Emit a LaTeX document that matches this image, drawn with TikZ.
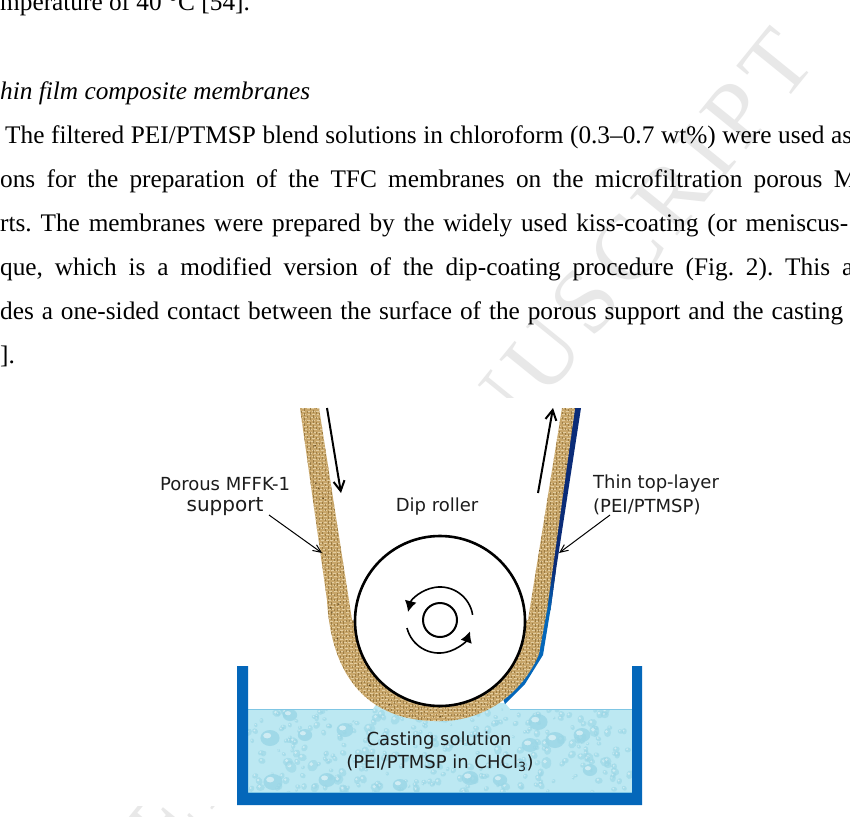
\documentclass[tikz,border=0pt]{standalone}
\usepackage{fontspec}
\setmainfont{Liberation Serif}
\newfontfamily\labelfont{DejaVu Sans}
\newfontfamily\wmfont[LetterSpace=10]{Liberation Serif}
\usetikzlibrary{arrows.meta}
\definecolor{tankblue}{HTML}{0467BA}
\definecolor{navy}{HTML}{0B2C78}
\definecolor{tanbase}{HTML}{C8A66A}
\definecolor{weavelight}{HTML}{E6D2A6}
\definecolor{weavedark}{HTML}{84642E}
\definecolor{waterbase}{HTML}{BCE8F2}
\definecolor{waterline}{HTML}{7FC6E4}
\definecolor{dropdark}{HTML}{9AD6E6}
\definecolor{wmark}{HTML}{E8E8E8}
\definecolor{inkgray}{HTML}{1C1C1C}
\tikzset{
  body/.style={anchor=base west,inner sep=0pt,text=black,font=\fontsize{25.3}{28}\selectfont\frenchspacing},
  lbl/.style={inner sep=0pt,text=inkgray,font=\labelfont\fontsize{18}{20}\selectfont},
  pointer/.style={line width=1pt,-{Straight Barb[length=8pt,width=7pt]}},
  travel/.style={line width=2pt,-{Straight Barb[length=10pt,width=11pt,line width=2pt]}},
  spin/.style={line width=1.6pt,-{Latex[length=11pt,width=12pt]}},
}
\newcommand{\bline}[2]{\makebox[#1pt][s]{#2}}
\begin{document}
\begin{tikzpicture}[x=1pt,y=-1pt]
\useasboundingbox (0,0) rectangle (850,816);
\clip (0,0) rectangle (850,816);
\fill[white] (0,0) rectangle (850,816);
% watermark
\node[rotate=51,anchor=base east,inner sep=0pt,text=wmark,font=\wmfont\fontsize{92}{100}\selectfont] (wm) at (818,62) {ACCEPTED MANUSCRIPT};
% running text
\node[body] (t0) at (0,10.5) {mperature of 40 °C [54].};
\node[body] (t1) at (0,99) {\itshape hin film composite membranes};
\node[body] (t2) at (5,143) {\bline{847}{The filtered PEI/PTMSP blend solutions in chloroform (0.3–0.7 wt\%) were used as}};
\node[body] (t3) at (0,187) {\bline{856}{ons for the preparation of the TFC membranes on the microfiltration porous M}};
\node[body] (t4) at (0,231) {\bline{848}{rts. The membranes were prepared by the widely used kiss-coating (or meniscus-}};
\node[body] (t5) at (0,275) {\bline{853}{que, which is a modified version of the dip-coating procedure (Fig. 2). This a}};
\node[body] (t6) at (0,319) {\bline{843}{des a one-sided contact between the surface of the porous support and the casting}};
\node[body] (t7) at (0,363) {].};
% figure background
\fill[white] (130,398) rectangle (735,806);
% water
\begin{scope}
\clip (248,709) -- (373,709) -- (377,703) -- (505,703) -- (510,709) -- (632,709) -- (632,793) -- (248,793) -- cycle;
\fill[waterbase] (240,700) rectangle (640,800);
\pgfmathsetseed{4217}
\foreach \i in {1,...,330}{
  \pgfmathsetmacro{\dx}{248+384*rnd}
  \pgfmathsetmacro{\dy}{709+84*rnd}
  \pgfmathsetmacro{\ds}{1.2+3*rnd*rnd+1.2*rnd}
  \pgfmathsetmacro{\da}{360*rnd}
  \fill[dropdark,opacity=.6,rotate around={\da:(\dx,\dy)}] (\dx,\dy) ellipse[x radius=1.25*\ds,y radius=\ds];
  \fill[white,opacity=.45] (\dx-.3*\ds,\dy-.3*\ds) circle[radius=.4*\ds];
}
\foreach \dx/\dy/\ds in {270/738/8,273/782/8,305/735/6,345/730/7,327/780/7,400/785/6,500/780/6,530/745/7,555/740/8,582/735/7,590/770/6,538/722/8,470/778/7,290/715/6}{
  \fill[dropdark,opacity=.8] (\dx,\dy) ellipse[x radius=1.2*\ds,y radius=\ds];
  \fill[white,opacity=.5] (\dx-.35*\ds,\dy-.3*\ds) ellipse[x radius=.5*\ds,y radius=.35*\ds];
}
\end{scope}
\draw[waterline,line width=1.5pt] (248,709.5) -- (373,709.5) (510,709.5) -- (632,709.5);
\draw[waterline,line width=1pt] (248,792.5) -- (632,792.5);
% tank
\fill[tankblue] (237,666) -- (248,666) -- (248,793) -- (632,793) -- (632,666) -- (642,666) -- (642,805) -- (237,805) -- cycle;
% coated layer
\fill[navy] (575,408) -- (581,408) -- (556,570) -- (551,570) -- cycle;
\fill[navy,shade,top color=navy,bottom color=tankblue] (551,569.5) -- (556,569.5) -- (550.5,610) -- (545.5,610) -- cycle;
\fill[tankblue] (545.5,609.5) -- (550.5,609.5) -- (543,655) -- (525,684) -- (505,704) -- (503,699) -- (521,678) -- (538,652) -- cycle;
% support strip
\begin{scope}
\path[clip] (300,408) -- (319,408) -- (352,620) -- (440,650) -- (528,620) -- (562,408) -- (575,408) -- (547,610) -- (539,654)
  .. controls (525,688) and (490,721) .. (440,721)
  .. controls (380,722) and (332,690) .. (327,600) -- cycle;
\fill[tanbase] (295,400) rectangle (585,725);
\pgfmathsetseed{311}
\foreach \yy in {405,408,...,723}{
  \pgfmathsetmacro{\ph}{5*rnd}
  \draw[weavelight,line width=1pt,opacity=.9,dash pattern=on 3pt off 1.8pt,dash phase=\ph pt] (295,\yy) -- (585,\yy);
}
\foreach \xx in {295,298,...,585}{
  \pgfmathsetmacro{\ph}{5*rnd}
  \draw[weavedark,line width=.8pt,opacity=.65,dash pattern=on 2.4pt off 2.6pt,dash phase=\ph pt] (\xx,405) -- (\xx,725);
}
\pgfmathsetseed{77}
\foreach \i in {1,...,120}{
  \pgfmathsetmacro{\dx}{300+280*rnd}
  \pgfmathsetmacro{\dy}{408+312*rnd}
  \fill[weavedark!75!black] (\dx,\dy) circle[radius=.8pt];
}
\end{scope}
% roller
\draw[line width=2.6pt,fill=white] (440,621) circle[radius=85pt];
\node[circle,draw=black,line width=2pt,minimum size=34pt,inner sep=0pt] (hub) at (440,620) {};
\coordinate (sa) at (472.6,614.8);
\coordinate (sb) at (407,628);
\draw[spin] (sa) arc[start angle=9,end angle=166,radius=33pt];
\draw[spin] (sb) arc[start angle=194,end angle=340,radius=33pt];
% travel arrows
\coordinate (ina) at (327,408);
\coordinate (inb) at (341,493);
\coordinate (outa) at (538,493);
\coordinate (outb) at (553,408);
\draw[travel] (ina) -- (inb);
\draw[travel] (outa) -- (outb);
% labels
\node[lbl] (ls1) at (225,484) {Porous MFFK-1};
\node[lbl,font=\labelfont\fontsize{20}{22}\selectfont] (ls2) at (225,507) {support};
\node[lbl] (ld) at (437,507) {Dip roller};
\node[lbl,anchor=west] (lt1) at (593,484) {Thin top-layer};
\node[lbl,anchor=west] (lt2) at (593,507) {(PEI/PTMSP)};
\node[lbl] (lc1) at (439,741) {Casting solution};
\node[lbl] (lc2) at (440,763) {(PEI/PTMSP in CHCl\textsubscript{3})};
% pointers
\coordinate (psa) at (269,515);
\coordinate (psb) at (322,553);
\coordinate (pta) at (610,515);
\coordinate (ptb) at (559,553);
\draw[pointer] (psa) -- (psb);
\draw[pointer] (pta) -- (ptb);
\end{tikzpicture}
\end{document}
